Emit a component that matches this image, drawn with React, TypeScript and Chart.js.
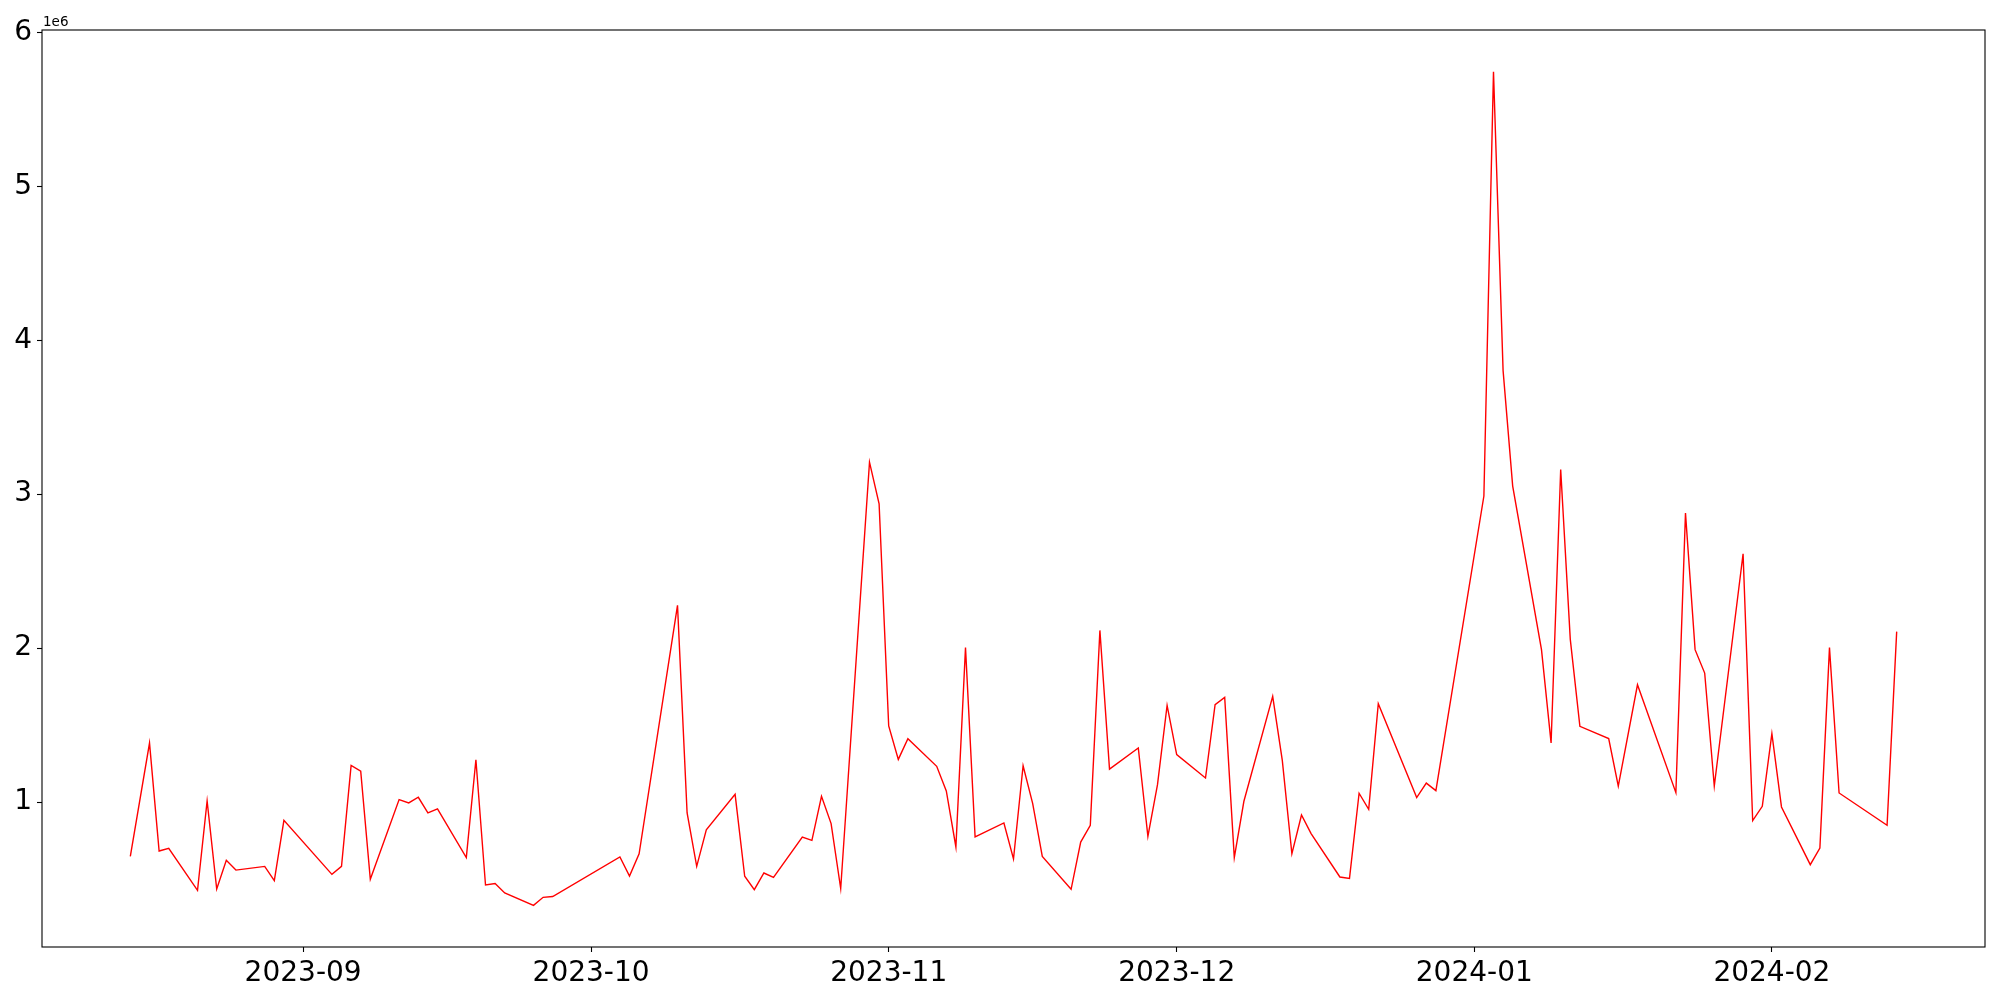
import React, { useEffect, useRef } from 'react';
import { Chart, registerables } from 'chart.js';

Chart.register(...registerables);

// KRX-style trading days (gaps are holidays / missing days)
const DATES = [
  '2023-08-14', '2023-08-16', '2023-08-17', '2023-08-18', '2023-08-21', '2023-08-22', '2023-08-23', '2023-08-24', '2023-08-25',
  '2023-08-28', '2023-08-29', '2023-08-30',
  '2023-09-04', '2023-09-05', '2023-09-06', '2023-09-07', '2023-09-08', '2023-09-11', '2023-09-12', '2023-09-13', '2023-09-14',
  '2023-09-15', '2023-09-18', '2023-09-19', '2023-09-20', '2023-09-21', '2023-09-22', '2023-09-25', '2023-09-26', '2023-09-27',
  '2023-10-04', '2023-10-05', '2023-10-06', '2023-10-10', '2023-10-11', '2023-10-12', '2023-10-13', '2023-10-16', '2023-10-17',
  '2023-10-18', '2023-10-19', '2023-10-20', '2023-10-23', '2023-10-24', '2023-10-25', '2023-10-26', '2023-10-27', '2023-10-30',
  '2023-10-31',
  '2023-11-01', '2023-11-02', '2023-11-03', '2023-11-06', '2023-11-07', '2023-11-08', '2023-11-09', '2023-11-10', '2023-11-13',
  '2023-11-14', '2023-11-15', '2023-11-16', '2023-11-17', '2023-11-20', '2023-11-21', '2023-11-22', '2023-11-23', '2023-11-24',
  '2023-11-27', '2023-11-28', '2023-11-29', '2023-11-30',
  '2023-12-01', '2023-12-04', '2023-12-05', '2023-12-06', '2023-12-07', '2023-12-08', '2023-12-11', '2023-12-12', '2023-12-13',
  '2023-12-14', '2023-12-15', '2023-12-18', '2023-12-19', '2023-12-20', '2023-12-21', '2023-12-22', '2023-12-26', '2023-12-27',
  '2023-12-28',
  '2024-01-02', '2024-01-03', '2024-01-04', '2024-01-05', '2024-01-08', '2024-01-09', '2024-01-10', '2024-01-11', '2024-01-12',
  '2024-01-15', '2024-01-16', '2024-01-18', '2024-01-22', '2024-01-23', '2024-01-24', '2024-01-25', '2024-01-26', '2024-01-29',
  '2024-01-30', '2024-01-31',
  '2024-02-01', '2024-02-02', '2024-02-05', '2024-02-06', '2024-02-07', '2024-02-08', '2024-02-13', '2024-02-14',
];

// values in units of 1e6
const VALUES = [
  0.647, 1.383, 0.682, 0.699, 0.426, 1.007, 0.435, 0.621, 0.558,
  0.582, 0.489, 0.881,
  0.530, 0.582, 1.238, 1.201, 0.498, 1.016, 0.994, 1.031, 0.929,
  0.955, 0.639, 1.275, 0.461, 0.470, 0.409, 0.329, 0.381, 0.386,
  0.643, 0.519, 0.664, 2.278, 0.929, 0.582, 0.820, 1.050, 0.518,
  0.431, 0.539, 0.511, 0.773, 0.751, 1.037, 0.860, 0.438, 3.208,
  2.938,
  1.494, 1.277, 1.412, 1.232, 1.072, 0.708, 2.003, 0.773, 0.864,
  0.630, 1.236, 0.990, 0.647, 0.433, 0.740, 0.849, 2.115, 1.214,
  1.351, 0.777, 1.113, 1.628,
  1.308, 1.156, 1.633, 1.680, 0.639, 1.005, 1.687, 1.271, 0.664,
  0.916, 0.795, 0.513, 0.504, 1.057, 0.953, 1.639, 1.029, 1.123,
  1.074,
  2.988, 5.745, 3.803, 3.053, 1.990, 1.384, 3.160, 2.057, 1.492,
  1.412, 1.104, 1.762, 1.061, 2.877, 1.990, 1.838, 1.104, 2.613,
  0.879, 0.972,
  1.444, 0.968, 0.593, 0.701, 2.003, 1.059, 0.849, 2.107,
];

const X_TICK_LABELS = ['2023-09', '2023-10', '2023-11', '2023-12', '2024-01', '2024-02'];
const Y_TICKS = [1, 2, 3, 4, 5, 6];
const Y_OFFSET_LABEL = '1e6';

export default function App() {
  const ref = useRef<HTMLCanvasElement>(null);

  useEffect(() => {
    document.body.style.margin = '0';
    const xs = DATES.map((d) => Date.parse(d + 'T00:00:00Z'));
    const xMin = Math.min(...xs);
    const xMax = Math.max(...xs);
    const xPad = (xMax - xMin) * 0.05;
    const yMin = Math.min(...VALUES);
    const yMax = Math.max(...VALUES);
    const yPad = (yMax - yMin) * 0.05;
    const monthTicks = X_TICK_LABELS.map((l) => Date.parse(l + '-01T00:00:00Z'));
    const tickFont = { family: '"DejaVu Sans"', size: 28 };

    const frame = {
      id: 'frame',
      afterDraw(chart: any) {
        const { ctx, chartArea: a } = chart;
        ctx.save();
        ctx.strokeStyle = '#000';
        ctx.lineWidth = 1.1;
        ctx.strokeRect(a.left, a.top, a.right - a.left, a.bottom - a.top);
        ctx.font = '13.5px "DejaVu Sans"';
        ctx.fillStyle = '#000';
        ctx.textAlign = 'left';
        ctx.textBaseline = 'alphabetic';
        ctx.fillText(Y_OFFSET_LABEL, a.left + 1, a.top - 4.5);
        ctx.restore();
      },
    };

    const grid = {
      display: true,
      drawOnChartArea: false,
      drawTicks: true,
      tickLength: 5,
      tickColor: '#000',
      tickWidth: 1.1,
    };

    const chart = new Chart(ref.current as HTMLCanvasElement, {
      type: 'line',
      data: {
        datasets: [
          {
            data: xs.map((x, i) => ({ x, y: VALUES[i] })),
            borderColor: '#ff0000',
            borderWidth: 1.4,
            pointRadius: 0,
            tension: 0,
            fill: false,
          },
        ],
      },
      options: {
        responsive: false,
        animation: false,
        devicePixelRatio: 1,
        layout: { padding: { top: 30, right: 15, left: 0, bottom: 0 } },
        plugins: { legend: { display: false }, tooltip: { enabled: false } },
        scales: {
          x: {
            type: 'linear',
            min: xMin - xPad,
            max: xMax + xPad,
            afterBuildTicks: (s: any) => {
              s.ticks = monthTicks.map((v) => ({ value: v }));
            },
            afterFit: (s: any) => {
              s.height = 53;
            },
            ticks: {
              autoSkip: false,
              maxRotation: 0,
              padding: 5,
              color: '#000',
              font: tickFont,
              callback: (v: any) => {
                const i = monthTicks.indexOf(Number(v));
                return i >= 0 ? X_TICK_LABELS[i] : '';
              },
            },
            grid,
            border: { display: false },
          },
          y: {
            type: 'linear',
            min: yMin - yPad,
            max: yMax + yPad,
            afterBuildTicks: (s: any) => {
              s.ticks = Y_TICKS.map((v) => ({ value: v }));
            },
            afterFit: (s: any) => {
              s.width = 42;
            },
            ticks: {
              padding: 5,
              color: '#000',
              font: tickFont,
              callback: (v: any) => String(v),
            },
            grid,
            border: { display: false },
          },
        },
      },
      plugins: [frame],
    } as any);

    return () => chart.destroy();
  }, []);

  return (
    <div style={{ position: 'absolute', left: 0, top: 0, width: 2000, height: 1000, background: '#fff' }}>
      <canvas ref={ref} width={2000} height={1000} style={{ width: 2000, height: 1000, display: 'block' }} />
    </div>
  );
}
